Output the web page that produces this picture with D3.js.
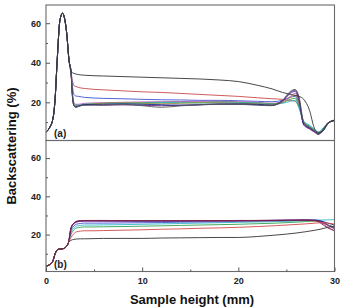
<!DOCTYPE html>
<html>
<head>
<meta charset="utf-8">
<style>
  body { margin: 0; background: #fff; }
  .tick text { font-family: "Liberation Sans", Arial, sans-serif; font-weight: bold; font-size: 9px; fill: #222; }
  .title { font-family: "Liberation Sans", Arial, sans-serif; font-weight: bold; font-size: 13px; fill: #111; }
  .panel { font-family: "Liberation Sans", Arial, sans-serif; font-weight: bold; font-size: 10px; fill: #222; }
</style>
</head>
<body>
<svg width="341" height="307"></svg>
<script src="https://d3js.org/d3.v7.min.js"></script>
<script>
// panel (a): shared peak, then one tail per curve
const headAX = [0, 0.35, 0.75, 0.95, 1.15, 1.45, 1.72, 1.95, 2.15, 2.4, 2.6];
const headAY = [5, 7, 12.5, 22, 40, 61.5, 65, 62, 55, 41, 35.5];
const tailAX = [2.75, 2.9, 3.1, 3.4, 4, 6, 8, 10, 12, 14, 16, 18, 20, 22, 23.5, 24.6, 25.4, 25.9, 26.3, 26.8, 27.4, 27.9, 28.3, 28.8, 29.3, 30];
const aBlack   = [35, 34.6, 34.3, 34, 33.7, 33.3, 33, 32.7, 32.4, 32.1, 31.8, 31.3, 30.5, 28.6, 26.8, 25, 24, 23.5, 23, 21.5, 16, 7, 4.8, 5.5, 9, 11];
const aRed     = [31, 28.5, 28, 27.5, 27, 26.3, 25.8, 25.3, 25, 24.5, 24, 23.5, 23, 22.3, 21.8, 21.5, 21, 20.5, 18, 10, 7.5, 6, 4.5, 6, 9.5, 11];
const aBlue    = [28, 24, 23.2, 23, 22.5, 22, 21.8, 21.5, 21.3, 21.2, 21, 21, 20.8, 20.5, 20.3, 21, 22.5, 23, 19, 9, 7, 5.5, 4.2, 6, 9.5, 11];
const aMagenta = [25, 20, 19, 19, 19.5, 19.8, 20, 20.2, 20.3, 20.4, 20.5, 20.5, 20.3, 20, 19.5, 20.5, 23, 24.5, 20, 9, 7, 5, 4, 6, 9.5, 10.8];
const aGreen   = [24, 19.5, 18.5, 18.5, 19, 19.5, 19.6, 19.8, 20, 20, 20, 20.2, 20, 19.7, 19.3, 19.8, 21.5, 22, 18, 10, 8, 6, 4.5, 6.5, 9.5, 10.8];
const aCyan    = [24, 19, 18.3, 18.5, 19, 19.3, 19.5, 19.5, 19.8, 19.8, 19.6, 19.8, 19.7, 19.5, 19, 19.5, 20.5, 21, 17, 10.5, 8.5, 6.5, 5, 7, 9.5, 10.8];
const aOlive   = [23.5, 19, 18, 18.3, 18.8, 19.5, 19.8, 19.5, 19.3, 19.5, 19.8, 19.8, 19.5, 19.3, 19, 20, 22.5, 23.5, 19.5, 9.5, 7.5, 5.5, 4.3, 6, 9.5, 10.8];
const aNavy    = [23, 18.5, 17.5, 18, 18.8, 19, 19.2, 19, 18.8, 18.5, 18.8, 19.2, 19.2, 19, 18.5, 21, 25, 26.2, 22, 9, 7, 5.5, 4, 6, 9.5, 10.8];
const aPurple  = [23, 18.5, 17.8, 18.2, 18.8, 18.5, 18.7, 18.5, 18.3, 18.6, 18.7, 19, 19, 18.8, 18.5, 20.5, 24.5, 25.5, 21, 8.5, 6.5, 5, 3.8, 5.5, 9.5, 10.8];
const aGray    = [23, 18.2, 17.5, 18, 18.5, 18.7, 19, 18.3, 17.5, 18.2, 18.8, 19, 19, 18.5, 18.3, 21, 25.5, 26.5, 23, 10, 7.5, 5.5, 4, 6, 9.5, 10.8];

// panel (b)
const headBX = [0, 0.35, 0.7, 0.95, 1.25, 1.6, 1.9, 2.15, 2.35];
const headBY = [3.5, 4.2, 6, 10, 12.3, 12.5, 12.8, 14, 16];
const tailBX = [2.6, 2.9, 3.2, 3.6, 4, 5, 6, 8, 10, 12, 14, 16, 18, 20, 22, 24, 26, 27, 28, 28.7, 29.3, 30];
const bBlack   = [17, 17.5, 17.7, 17.8, 17.8, 17.9, 18, 18, 18, 18.2, 18.3, 18.4, 18.5, 18.5, 19, 19.8, 20.8, 21.5, 22.3, 23, 23.8, 24.5];
const bRed     = [18.5, 20.5, 21.5, 21.8, 22, 22, 22.1, 22.3, 22.5, 22.8, 23, 23.3, 23.5, 23.8, 24.2, 24.7, 25.3, 25.6, 26, 26.2, 26, 25.5];
const bGreen   = [20, 22.5, 23.5, 23.8, 24, 24, 24.1, 24.2, 24.4, 24.6, 24.8, 25, 25.2, 25.4, 25.7, 26, 26.5, 26.8, 27, 26.5, 25, 24];
const bCyan    = [21, 23.5, 24.5, 24.8, 25, 25, 25.1, 25.2, 25.4, 25.6, 25.8, 26, 26.2, 26.4, 26.6, 26.8, 27.1, 27.3, 27.5, 27.6, 27.7, 27.8];
const bBlue    = [22, 24.5, 25.5, 25.8, 26, 26, 26, 26.1, 26.2, 26.3, 26.5, 26.6, 26.7, 26.9, 27, 27.2, 27.4, 27.5, 27.6, 26.8, 25, 23.5];
const bMagenta = [23, 25.5, 26.5, 26.9, 27, 27, 27, 27, 27, 27, 27, 27, 27.1, 27.2, 27.3, 27.4, 27.5, 27.6, 27.3, 26, 24, 22];
const bOlive   = [23, 25.5, 26.6, 27, 27.1, 27.1, 27.1, 27.1, 27.1, 27.1, 27.1, 27.1, 27.1, 27.2, 27.2, 27.3, 27.3, 27.3, 27, 26.3, 25, 24];
const bPurple  = [23.5, 26, 26.8, 27.1, 27.2, 27.2, 27.2, 27.2, 27.2, 27.2, 27.2, 27.2, 27.3, 27.3, 27.4, 27.5, 27.6, 27.6, 27.5, 26.5, 25, 23];
const bNavy    = [23.5, 26, 26.9, 27.2, 27.3, 27.3, 27.2, 27.2, 27.1, 27.1, 27.1, 27.2, 27.2, 27.3, 27.3, 27.4, 27.5, 27.6, 27.5, 27, 26, 25];
const bDarkRed = [23.5, 26, 27, 27.3, 27.4, 27.4, 27.4, 27.3, 27.3, 27.3, 27.3, 27.3, 27.3, 27.4, 27.4, 27.5, 27.6, 27.6, 27.3, 25.5, 23.5, 22];

const xTicks = [0, 10, 20, 30];
const xMinor = [5, 15, 25];
const yTicks = [20, 40, 60];
const yMinor = [10, 30, 50];

const seriesA = [
  { c: "#c84848", y: aRed }, { c: "#4050d0", y: aBlue }, { c: "#c050c0", y: aMagenta },
  { c: "#30a050", y: aGreen }, { c: "#30b8c8", y: aCyan }, { c: "#a09040", y: aOlive },
  { c: "#6a2090", y: aPurple }, { c: "#1a2a80", y: aNavy }, { c: "#555", y: aGray },
  { c: "#333", y: aBlack }
];
const seriesB = [
  { c: "#30a050", y: bGreen }, { c: "#30b8c8", y: bCyan }, { c: "#4050d0", y: bBlue },
  { c: "#a09040", y: bOlive }, { c: "#c050c0", y: bMagenta }, { c: "#6a2090", y: bPurple },
  { c: "#1a2a80", y: bNavy }, { c: "#8a2040", y: bDarkRed }, { c: "#d04848", y: bRed },
  { c: "#333", y: bBlack }
];

const svg = d3.select("svg");
const left = 46, right = 334.5;
const x = d3.scaleLinear().domain([0, 30]).range([left, right]);

function panel(top, bottom, hx, hy, tx, series, label, showX) {
  const y = d3.scaleLinear().domain([0.7, 69.2]).range([bottom, top]);
  const g = svg.append("g");
  const line = d3.line().x(d => x(d[0])).y(d => y(d[1])).curve(d3.curveMonotoneX);

  series.forEach(s => {
    const pts = hx.map((v, i) => [v, hy[i]]).concat(tx.map((v, i) => [v, s.y[i]]));
    g.append("path").attr("d", line(pts))
      .attr("fill", "none").attr("stroke", s.c).attr("stroke-width", 0.9);
  });

  g.append("rect").attr("x", left).attr("y", top)
    .attr("width", right - left).attr("height", bottom - top)
    .attr("fill", "none").attr("stroke", "#6a6a6a").attr("stroke-width", 1.1);

  const ya = g.append("g").attr("transform", `translate(${left},0)`)
    .call(d3.axisLeft(y).tickValues(yTicks).tickSize(-4).tickPadding(5).tickFormat(d3.format("d")));
  ya.select(".domain").remove();
  ya.selectAll("line").attr("stroke", "#555");
  const ym = g.append("g").attr("transform", `translate(${left},0)`)
    .call(d3.axisLeft(y).tickValues(yMinor).tickSize(-2).tickFormat(""));
  ym.select(".domain").remove();
  ym.selectAll("line").attr("stroke", "#555");

  if (showX) {
    const xa = g.append("g").attr("transform", `translate(0,${bottom})`)
      .call(d3.axisBottom(x).tickValues(xTicks).tickSize(-4).tickPadding(6).tickFormat(d3.format("d")));
    xa.select(".domain").remove();
    xa.selectAll("line").attr("stroke", "#555");
    const xm = g.append("g").attr("transform", `translate(0,${bottom})`)
      .call(d3.axisBottom(x).tickValues(xMinor).tickSize(-2).tickFormat(""));
    xm.select(".domain").remove();
    xm.selectAll("line").attr("stroke", "#555");
  }

  g.append("text").attr("class", "panel").attr("x", left + 8).attr("y", bottom - 4).text(label);
}

panel(5, 140.5, headAX, headAY, tailAX, seriesA, "(a)", false);
panel(140.5, 271.5, headBX, headBY, tailBX, seriesB, "(b)", true);

svg.append("text").attr("class", "title")
  .attr("transform", "translate(16,146) rotate(-90)")
  .attr("text-anchor", "middle").text("Backscattering (%)");
svg.append("text").attr("class", "title")
  .attr("x", 192).attr("y", 304)
  .attr("text-anchor", "middle").text("Sample height (mm)");
</script>
</body>
</html>
